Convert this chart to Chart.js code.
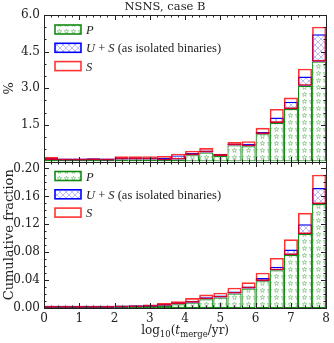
<!DOCTYPE html>
<html>
<head>
<meta charset="utf-8">
<script src="https://cdn.jsdelivr.net/npm/chart.js@4.4.1/dist/chart.umd.min.js"></script>
<style>
html, body { margin: 0; padding: 0; background: #fff; }
canvas { display: block; }
</style>
</head>
<body>
<canvas id="nsnsChart" width="334" height="343"></canvas>
<script>
// bin centres of log10(t_merge/yr); bins are 0.4 wide
const binCentres = [0.2, 0.6, 1.0, 1.4, 1.8, 2.2, 2.6, 3.0, 3.4, 3.8, 4.2, 4.6, 5.0, 5.4, 5.8, 6.2, 6.6, 7.0, 7.4, 7.8];

// upper panel, share of systems per bin (%)
const pctP  = [0.06, 0.04, 0.04, 0.05, 0.04, 0.08, 0.08, 0.08, 0.05, 0.08, 0.26, 0.37, 0.23, 0.66, 0.62, 1.12, 1.58, 2.15, 3.10, 4.09];
const pctUS = [0.10, 0.05, 0.05, 0.06, 0.06, 0.15, 0.15, 0.13, 0.15, 0.25, 0.35, 0.45, 0.28, 0.73, 0.73, 1.21, 1.80, 2.45, 3.48, 5.21];
const pctS  = [0.19, 0.06, 0.06, 0.11, 0.07, 0.21, 0.21, 0.22, 0.23, 0.32, 0.44, 0.55, 0.32, 0.80, 0.83, 1.38, 2.15, 2.62, 3.80, 5.52];

// lower panel, cumulative fraction
const cumP  = [0.0002, 0.0003, 0.0003, 0.0004, 0.0005, 0.0007, 0.0010, 0.0018, 0.0032, 0.0053, 0.0077, 0.0125, 0.0150, 0.0208, 0.0280, 0.0385, 0.0540, 0.0760, 0.1060, 0.1490];
const cumUS = [0.0004, 0.0005, 0.0006, 0.0008, 0.0009, 0.0013, 0.0018, 0.0030, 0.0045, 0.0067, 0.0100, 0.0155, 0.0175, 0.0235, 0.0300, 0.0430, 0.0592, 0.0838, 0.1200, 0.1720];
const cumS  = [0.0008, 0.0009, 0.0010, 0.0013, 0.0015, 0.0022, 0.0030, 0.0050, 0.0070, 0.0095, 0.0142, 0.0192, 0.0220, 0.0292, 0.0368, 0.0505, 0.0718, 0.0985, 0.1365, 0.1910];

const seriesLabels = ['P', 'U + S (as isolated binaries)', 'S'];
const xTicks = [0, 1, 2, 3, 4, 5, 6, 7, 8];
const pctTicks = [1.5, 3.0, 4.5, 6.0];
const cumTicks = [0, 0.04, 0.08, 0.12, 0.16, 0.20];

const canvas = document.getElementById('nsnsChart');
const ctx = canvas.getContext('2d');
const serif = '"DejaVu Serif", serif';
const ink = '#222';

// hatch fills (stars for P, cross hatch for U+S)
function starFill() {
    const c = document.createElement('canvas');
    c.width = 7; c.height = 7;
    const g = c.getContext('2d');
    g.fillStyle = '#fff';
    g.fillRect(0, 0, 7, 7);
    g.strokeStyle = 'rgba(20,150,20,0.55)';
    g.lineWidth = 0.7;
    g.beginPath();
    for (let k = 0; k < 10; k++) {
        const r = k % 2 ? 1.0 : 2.4;
        const a = -Math.PI / 2 + k * Math.PI / 5;
        const px = 3.5 + r * Math.cos(a), py = 3.5 + r * Math.sin(a);
        if (k) g.lineTo(px, py); else g.moveTo(px, py);
    }
    g.closePath();
    g.stroke();
    return ctx.createPattern(c, 'repeat');
}

function crossFill() {
    const c = document.createElement('canvas');
    c.width = 6; c.height = 6;
    const g = c.getContext('2d');
    g.fillStyle = '#fff';
    g.fillRect(0, 0, 6, 6);
    g.strokeStyle = 'rgba(70,70,255,0.5)';
    g.lineWidth = 0.7;
    g.beginPath();
    g.moveTo(-1, -1); g.lineTo(7, 7);
    g.moveTo(7, -1); g.lineTo(-1, 7);
    g.stroke();
    return ctx.createPattern(c, 'repeat');
}

const starPattern = starFill();
const crossPattern = crossFill();

function panelSets(p, us, s, axis) {
    return [
        {
            label: seriesLabels[2], yAxisID: axis, order: 0,
            data: binCentres.map((x, i) => ({ x: x, y: [p[i], s[i]] })),
            backgroundColor: 'rgba(0,0,0,0)', borderColor: 'rgba(255,0,0,0.8)', borderWidth: 1.6,
        },
        {
            label: seriesLabels[1], yAxisID: axis, order: 1,
            data: binCentres.map((x, i) => ({ x: x, y: [p[i], us[i]] })),
            backgroundColor: crossPattern, borderColor: '#0000ff', borderWidth: 1.4,
        },
        {
            label: seriesLabels[0], yAxisID: axis, order: 2,
            data: binCentres.map((x, i) => ({ x: x, y: p[i] })),
            backgroundColor: starPattern, borderColor: '#138a13', borderWidth: 1.2,
        },
    ];
}

// frame with inward minor/major ticks on every side of each panel
const frameTicks = {
    id: 'frameTicks',
    afterDatasetsDraw(chart) {
        const c = chart.ctx;
        const xs = chart.scales.x;
        const panels = [
            { s: chart.scales.yPct, step: 0.5, every: 3 },
            { s: chart.scales.yCum, step: 0.01, every: 4 },
        ];
        c.save();
        c.strokeStyle = ink;
        c.lineWidth = 1;
        for (const p of panels) {
            const top = Math.round(p.s.top), bot = Math.round(p.s.bottom);
            const l = Math.round(xs.left), r = Math.round(xs.right);
            c.strokeRect(l + 0.5, top + 0.5, r - l, bot - top);
            c.beginPath();
            for (let i = 0; i <= 40; i++) {
                const px = Math.round(xs.getPixelForValue(i * 0.2)) + 0.5;
                const len = i % 5 === 0 ? 5 : 2.5;
                c.moveTo(px, top); c.lineTo(px, top + len);
                c.moveTo(px, bot); c.lineTo(px, bot - len);
            }
            for (let i = 0; i * p.step <= p.s.max + 1e-9; i++) {
                const py = Math.round(p.s.getPixelForValue(i * p.step)) + 0.5;
                const len = i % p.every === 0 ? 5 : 2.5;
                c.moveTo(l, py); c.lineTo(l + len, py);
                c.moveTo(r, py); c.lineTo(r - len, py);
            }
            c.stroke();
        }
        c.restore();
    }
};

// legend inside the upper-left corner of each panel
const panelLegend = {
    id: 'panelLegend',
    afterDraw(chart) {
        const c = chart.ctx;
        const x0 = chart.chartArea.left + 11;
        for (const axis of ['yPct', 'yCum']) {
            const sc = chart.scales[axis];
            const sets = chart.data.datasets.filter(d => d.yAxisID === axis).reverse();
            sets.forEach((d, k) => {
                const y0 = sc.top + 10 + k * 18.3;
                c.save();
                c.fillStyle = d.backgroundColor === 'rgba(0,0,0,0)' ? '#fff' : d.backgroundColor;
                c.fillRect(x0, y0, 26, 9);
                c.strokeStyle = d.borderColor;
                c.lineWidth = 1.6;
                c.strokeRect(x0, y0, 26, 9);
                c.fillStyle = ink;
                c.textBaseline = 'alphabetic';
                let tx = x0 + 31;
                for (const part of d.label.split(/([A-Z])/)) {
                    if (!part) continue;
                    const it = /^[A-Z]$/.test(part);
                    c.font = (it ? 'italic ' : '') + '12.5px "Liberation Serif", serif';
                    c.fillText(part, tx, y0 + 9);
                    tx += c.measureText(part).width;
                }
                c.restore();
            });
        }
    }
};

// x axis title with subscripts
const xTitle = {
    id: 'xTitle',
    afterDraw(chart) {
        const c = chart.ctx;
        const parts = [
            ['log', '12px', 0], ['10', '8.5px', 3], ['(', '12px', 0],
            ['t', 'italic 12px', 0], ['merge', '8.5px', 3], ['/yr)', '12px', 0],
        ];
        c.save();
        c.fillStyle = ink;
        c.textBaseline = 'alphabetic';
        let w = 0;
        for (const [t, f] of parts) { c.font = f + ' ' + serif; w += c.measureText(t).width; }
        let tx = (chart.chartArea.left + chart.chartArea.right) / 2 - w / 2;
        for (const [t, f, dy] of parts) {
            c.font = f + ' ' + serif;
            c.fillText(t, tx, 334 + dy);
            tx += c.measureText(t).width;
        }
        c.restore();
    }
};

const tickFont = { family: serif, size: 12 };

new Chart(ctx, {
    type: 'bar',
    data: {
        datasets: [
            ...panelSets(pctP, pctUS, pctS, 'yPct'),
            ...panelSets(cumP, cumUS, cumS, 'yCum'),
        ]
    },
    options: {
        responsive: false,
        animation: false,
        devicePixelRatio: 1,
        grouped: false,
        barPercentage: 1,
        categoryPercentage: 1,
        borderSkipped: false,
        inflateAmount: 0,
        minBarLength: 2,
        layout: { padding: { left: 0, right: 4, top: 0, bottom: 0 } },
        plugins: {
            legend: { display: false },
            tooltip: { enabled: false },
            title: {
                display: true,
                text: 'NSNS, case B',
                color: ink,
                font: { family: serif, size: 11.5, weight: 'normal', lineHeight: 1 },
                padding: { top: 1, bottom: 2.5 },
            },
        },
        scales: {
            x: {
                type: 'linear',
                min: 0,
                max: 8,
                offset: false,
                grid: { display: false, drawTicks: false },
                border: { display: false },
                ticks: { font: tickFont, color: ink, padding: 4, autoSkip: false, maxRotation: 0 },
                afterBuildTicks: s => { s.ticks = xTicks.map(v => ({ value: v })); },
                afterFit: s => { s.height = 35; },
            },
            yCum: {
                type: 'linear',
                position: 'left',
                stack: 'panels',
                stackWeight: 1,
                min: 0,
                max: 0.21,
                grid: { display: false, drawTicks: false },
                border: { display: false },
                ticks: { font: tickFont, color: ink, padding: 4, autoSkip: false, callback: v => v.toFixed(2) },
                afterBuildTicks: s => { s.ticks = cumTicks.map(v => ({ value: v })); },
                afterFit: s => { s.width = 44; },
                title: { display: true, text: 'Cumulative fraction', color: ink, font: { family: serif, size: 13 }, padding: { top: 2, bottom: 0 } },
            },
            yPct: {
                type: 'linear',
                position: 'left',
                stack: 'panels',
                stackWeight: 1,
                min: 0,
                max: 6,
                grid: { display: false, drawTicks: false },
                border: { display: false },
                ticks: { font: tickFont, color: ink, padding: 4, autoSkip: false, callback: v => v.toFixed(1) },
                afterBuildTicks: s => { s.ticks = pctTicks.map(v => ({ value: v })); },
                afterFit: s => { s.width = 44; },
                title: { display: true, text: '%', color: ink, font: { family: serif, size: 13 }, padding: { top: 2, bottom: 0 } },
            },
        }
    },
    plugins: [frameTicks, panelLegend, xTitle]
});
</script>
</body>
</html>
